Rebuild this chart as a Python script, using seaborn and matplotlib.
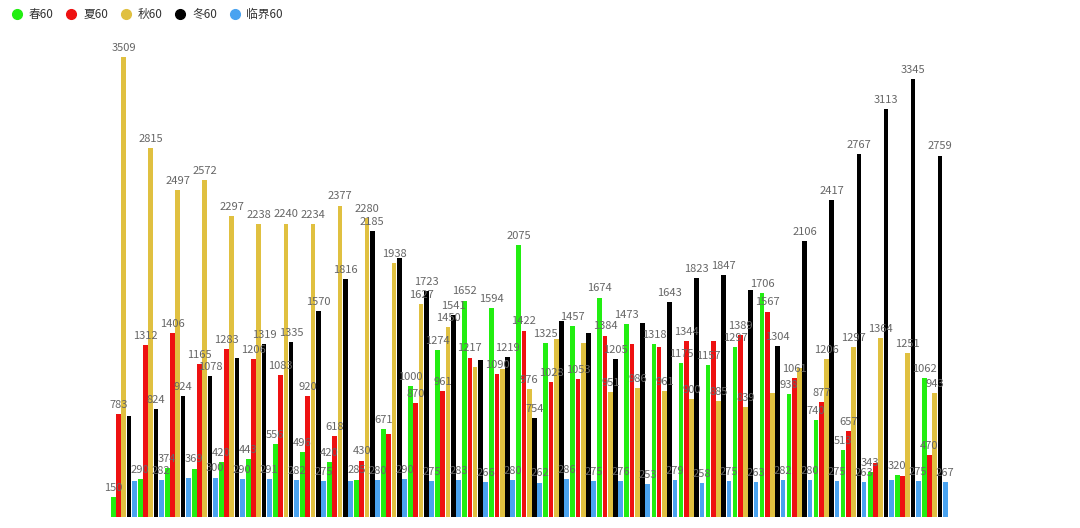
import matplotlib
matplotlib.use('Agg')
import numpy as np
import pandas as pd
import seaborn as sns
import matplotlib.pyplot as plt
from matplotlib.lines import Line2D

# ---------------- data ----------------
series = ['春60', '夏60', '秋60', '冬60', '临界60']
colors = ['#22ee11', '#ee1111', '#e0c040', '#000000', '#4aa3f0']
groups = [str(i + 1) for i in range(31)]

spring = [150, 290, 374, 369, 420, 443, 556, 496, 420, 285, 671, 1000, 1274, 1652, 1594, 2075,
          1325, 1457, 1674, 1473, 1318, 1175, 1157, 1297, 1706, 938, 740, 513, 343, 320, 1062]
summer = [783, 1312, 1406, 1165, 1283, 1206, 1083, 920, 618, 430, 633, 870, 961, 1217, 1090, 1422,
          1028, 1053, 1384, 1320, 1297, 1344, 1340, 1389, 1567, 1061, 877, 657, 412, 314, 470]
autumn = [3509, 2815, 2497, 2572, 2297, 2238, 2240, 2234, 2377, 2280, 1938, 1627, 1450, 1142, 1132, 976,
          1358, 1328, 951, 986, 961, 900, 885, 839, 946, 1137, 1206, 1297, 1364, 1251, 943]
winter = [770, 824, 924, 1078, 1213, 1319, 1335, 1570, 1816, 2185, 1976, 1723, 1541, 1200, 1219, 754,
          1496, 1404, 1205, 1480, 1643, 1823, 1847, 1732, 1304, 2106, 2417, 2767, 3113, 3345, 2759]
critical = [274, 282, 298, 300, 290, 291, 282, 275, 275, 280, 290, 275, 283, 266, 280, 262,
            286, 275, 276, 253, 279, 258, 275, 263, 282, 280, 275, 263, 282, 275, 267]

values = [spring, summer, autumn, winter, critical]
df = pd.DataFrame({
    'group': np.tile(groups, len(series)),
    'series': np.repeat(series, len(groups)),
    'value': np.concatenate(values),
})

fam = ['Noto Sans CJK SC', 'DejaVu Sans']

# ---------------- plot ----------------
fig = plt.figure(figsize=(10.8, 5.28), dpi=100)
ax = fig.add_axes([0.102, 0.021, 0.776, 0.903])
plt.rcParams['font.family'] = fam

sns.barplot(data=df, x='group', y='value', hue='series', order=groups, hue_order=series,
            palette=colors, width=0.97, gap=0.1, saturation=1, legend=False, ax=ax)

ax.set_ylim(0, 3640)
ax.set_xlim(-0.5, len(groups) - 0.5)
ax.axis('off')

# value labels, hide the ones that collide with an already placed label
fig.canvas.draw()
renderer = fig.canvas.get_renderer()
kept = []
for cont in ax.containers:
    texts = ax.bar_label(cont, labels=[f'{int(v)}' for v in cont.datavalues], padding=3,
                         fontsize=8, color='#666666', family=fam)
    for t in texts:
        bb = t.get_window_extent(renderer)
        if any(bb.overlaps(k) for k in kept):
            t.set_visible(False)
        else:
            kept.append(bb)

handles = [Line2D([0], [0], marker='o', color='none', markerfacecolor=c, markeredgecolor=c,
                  markersize=7) for c in colors]
fig.legend(handles, series, loc='upper left', bbox_to_anchor=(-0.005, 1.005), ncol=5, frameon=False,
           handletextpad=0.0, columnspacing=0.5, labelcolor='#333333',
           prop={'family': fam, 'size': 8.5})

fig.savefig('out.png', dpi=100)
